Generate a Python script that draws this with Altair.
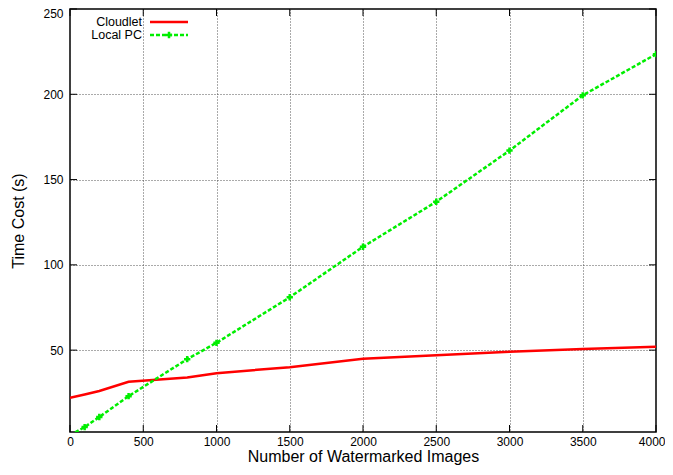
import altair as alt
import pandas as pd

images = [0, 100, 200, 400, 800, 1000, 1500, 2000, 2500, 3000, 3500, 4000]
cloudlet = [22, 24, 26, 31.4, 34, 36.5, 40, 45, 47, 49, 50.6, 52]
local_pc = [0, 4.9, 10.8, 23, 44.7, 54.3, 81, 110.6, 137, 167, 199.4, 223.5]
series_names = ["Cloudlet", "Local PC"]
series_colors = ["#ff0000", "#00ee00"]
x_ticks = [0, 500, 1000, 1500, 2000, 2500, 3000, 3500, 4000]
y_ticks = [50, 100, 150, 200, 250]

W, H = 586, 423
FONT = "Liberation Sans"

df = pd.DataFrame({
    "images": images * 2,
    "time": cloudlet + local_pc,
    "series": [series_names[0]] * len(images) + [series_names[1]] * len(images),
})

xs = alt.Scale(domain=[0, 4000], nice=False)
ys = alt.Scale(domain=[2, 250], nice=False)
cs = alt.Scale(domain=series_names, range=series_colors)

X = alt.X("images:Q", scale=xs,
          axis=alt.Axis(values=x_ticks, title="Number of Watermarked Images", format="d",
                        labelPadding=4, titlePadding=1,
                        labelAlign={"condition": {"test": "datum.value == 4000", "value": "right"}, "value": "center"},
                        labelOffset={"condition": {"test": "datum.value == 4000", "value": 9}, "value": 0}))
Y = alt.Y("time:Q", scale=ys,
          axis=alt.Axis(values=y_ticks, title="Time Cost (s)", labelPadding=7, titlePadding=16,
                        labelBaseline={"condition": {"test": "datum.value == 250", "value": "top"}, "value": "middle"},
                        labelOffset={"condition": {"test": "datum.value == 250", "value": -1}, "value": 0}))

red = alt.Chart(df).transform_filter(alt.datum.series == series_names[0]).mark_line(
    strokeWidth=2.5, clip=True
).encode(x=X, y=Y, color=alt.Color("series:N", scale=cs, legend=None))

green = alt.Chart(df).transform_filter(alt.datum.series == series_names[1]).mark_line(
    strokeWidth=2.5, strokeDash=[4, 2], clip=True
).encode(x=X, y=Y, color=alt.Color("series:N", scale=cs, legend=None))

green_pts = alt.Chart(df).transform_filter(alt.datum.series == series_names[1]).mark_point(
    shape="cross", filled=True, size=40, opacity=1, clip=True
).encode(x=X, y=Y, color=alt.Color("series:N", scale=cs, legend=None))

# inward ticks (mirrored)
xt = pd.DataFrame({"images": x_ticks})
yt = pd.DataFrame({"time": y_ticks})
tick_style = dict(color="black", strokeWidth=1)
xb = alt.Chart(xt).mark_rule(**tick_style).encode(x=alt.X("images:Q", scale=xs), y=alt.value(H), y2=alt.value(H - 7))
xtop = alt.Chart(xt).mark_rule(**tick_style).encode(x=alt.X("images:Q", scale=xs), y=alt.value(0), y2=alt.value(7))
yl = alt.Chart(yt).mark_rule(**tick_style).encode(y=alt.Y("time:Q", scale=ys), x=alt.value(0), x2=alt.value(7))
yr = alt.Chart(yt).mark_rule(**tick_style).encode(y=alt.Y("time:Q", scale=ys), x=alt.value(W), x2=alt.value(W - 7))

# legend
leg = pd.DataFrame({"series": series_names})
leg_text1 = alt.Chart(leg).transform_filter(alt.datum.series == series_names[0]).mark_text(
    align="right", baseline="middle", font=FONT, fontSize=12.5, color="black"
).encode(text="series:N", x=alt.value(72), y=alt.value(13))
leg_text2 = alt.Chart(leg).transform_filter(alt.datum.series == series_names[1]).mark_text(
    align="right", baseline="middle", font=FONT, fontSize=12.5, color="black"
).encode(text="series:N", x=alt.value(72), y=alt.value(26))
leg_line1 = alt.Chart(leg).transform_filter(alt.datum.series == series_names[0]).mark_rule(
    strokeWidth=2.5
).encode(x=alt.value(80), x2=alt.value(118), y=alt.value(13),
         color=alt.Color("series:N", scale=cs, legend=None))
leg_line2 = alt.Chart(leg).transform_filter(alt.datum.series == series_names[1]).mark_rule(
    strokeWidth=2.5, strokeDash=[4, 2]
).encode(x=alt.value(80), x2=alt.value(118), y=alt.value(26),
         color=alt.Color("series:N", scale=cs, legend=None))
leg_pt2 = alt.Chart(leg).transform_filter(alt.datum.series == series_names[1]).mark_point(
    shape="cross", filled=True, size=40, opacity=1
).encode(x=alt.value(99), y=alt.value(26),
         color=alt.Color("series:N", scale=cs, legend=None))

chart = alt.layer(
    xb, xtop, yl, yr, red, green, green_pts,
    leg_text1, leg_text2, leg_line1, leg_line2, leg_pt2,
).properties(
    width=W, height=H,
    autosize=alt.AutoSizeParams(type="none"),
    padding={"left": 62, "top": 1, "right": 9, "bottom": 35},
    background="white",
).configure_view(
    stroke="black", strokeWidth=1.5
).configure_axis(
    domain=False, ticks=False,
    grid=True, gridColor="#444", gridDash=[1, 2], gridWidth=1, gridOpacity=0.9,
    labelFont=FONT, labelFontSize=12, labelColor="black",
    titleFont=FONT, titleFontSize=16, titleFontWeight="normal", titleColor="black",
)

chart.save("out.html", embed_options={"renderer": "svg", "actions": False})
